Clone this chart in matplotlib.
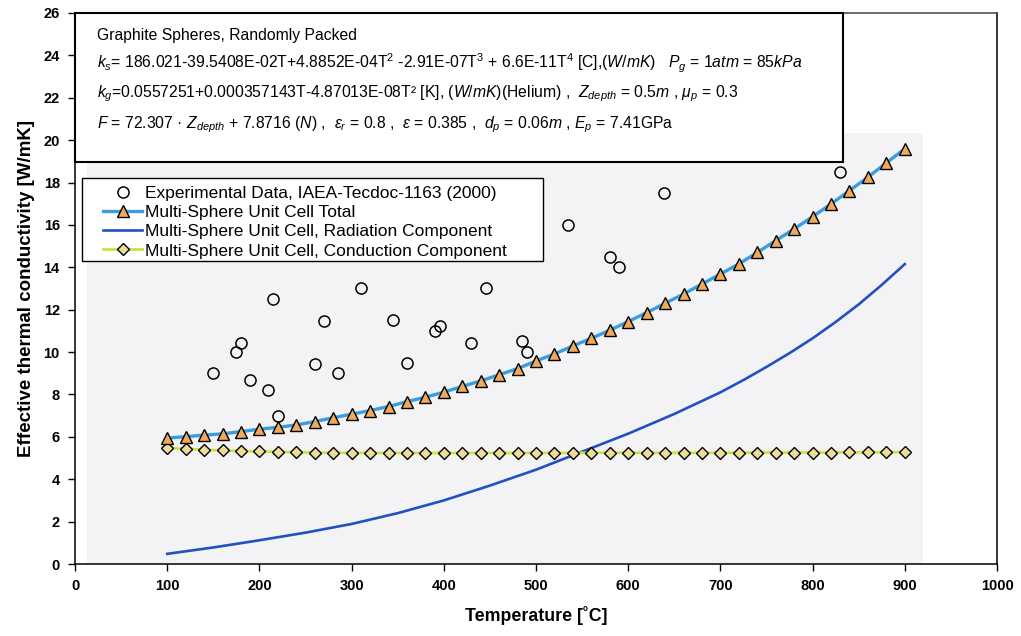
import matplotlib
matplotlib.use("Agg")
import matplotlib.pyplot as plt
from matplotlib.patches import Rectangle

plt.rcParams['font.family'] = ['Liberation Sans', 'DejaVu Sans']
plt.rcParams['mathtext.fontset'] = 'custom'
plt.rcParams['mathtext.rm'] = 'Liberation Sans'
plt.rcParams['mathtext.it'] = 'Liberation Sans:italic'
plt.rcParams['mathtext.bf'] = 'Liberation Sans:bold'

# Experimental data, IAEA-Tecdoc-1163 (2000)
exp_T = [150, 175, 180, 190, 209, 215, 220, 260, 270, 285, 310, 345, 360,
         390, 396, 430, 446, 485, 490, 535, 580, 590, 639, 830]
exp_k = [9.0, 10.0, 10.45, 8.7, 8.2, 12.5, 7.0, 9.45, 11.45, 9.0, 13.0, 11.5, 9.5,
         11.0, 11.25, 10.45, 13.0, 10.5, 10.0, 16.0, 14.5, 14.0, 17.5, 18.5]

# Multi-sphere unit cell model, 100..900 C in 20 C steps
model_T = list(range(100, 901, 20))
total_k = [5.94, 6.01, 6.08, 6.14, 6.25, 6.36, 6.45, 6.56, 6.72, 6.90,
           7.07, 7.24, 7.43, 7.66, 7.87, 8.11, 8.38, 8.64, 8.93, 9.22,
           9.58, 9.91, 10.29, 10.65, 11.03, 11.44, 11.86, 12.30, 12.74, 13.21,
           13.68, 14.16, 14.70, 15.26, 15.81, 16.39, 16.99, 17.62, 18.25, 18.93,
           19.59]
cond_k = [5.47, 5.43, 5.39, 5.36, 5.33, 5.31, 5.29, 5.27, 5.26, 5.25,
          5.24, 5.24, 5.24, 5.24, 5.24, 5.24, 5.24, 5.24, 5.24, 5.24,
          5.24, 5.24, 5.24, 5.25, 5.25, 5.25, 5.25, 5.25, 5.25, 5.25,
          5.25, 5.25, 5.26, 5.26, 5.26, 5.26, 5.26, 5.27, 5.27, 5.27,
          5.28]

# Radiation component (smooth curve)
rad_T = [100, 150, 200, 250, 300, 350, 400, 450, 500, 550, 600, 650, 700,
         725, 750, 775, 800, 825, 850, 875, 900]
rad_k = [0.48, 0.78, 1.12, 1.48, 1.89, 2.40, 3.00, 3.70, 4.45, 5.30, 6.15,
         7.08, 8.10, 8.68, 9.30, 9.95, 10.65, 11.42, 12.25, 13.17, 14.15]

x_ticks = list(range(0, 1001, 100))
y_ticks = list(range(0, 27, 2))

fig = plt.figure(figsize=(10.21, 6.36), dpi=100)
ax = fig.add_axes([0.0735, 0.1132, 0.903, 0.8664])

# faint grey tint of the plotting region
ax.add_patch(Rectangle((0.013, 0.0), 0.907, 0.782, transform=ax.transAxes,
                       facecolor='#f3f3f6', edgecolor='none', zorder=0))

ax.plot(rad_T, rad_k, color='#2350c0', lw=1.9, zorder=3,
        label='Multi-Sphere Unit Cell, Radiation Component')
ax.plot(model_T, cond_k, color='#c8e33c', lw=2.0, marker='D', ms=6.5,
        mfc='#eedd9a', mec='black', mew=1.0, zorder=4,
        label='Multi-Sphere Unit Cell, Conduction Component')
ax.plot(model_T, total_k, color='#3a9de0', lw=2.4, marker='^', ms=8.5,
        mfc='#f0a95c', mec='black', mew=1.0, zorder=5,
        label='Multi-Sphere Unit Cell Total')
ax.plot(exp_T, exp_k, ls='none', marker='o', ms=8, mfc='none', mec='black',
        mew=1.1, zorder=6, label='Experimental Data, IAEA-Tecdoc-1163 (2000)')

ax.set_xlim(0, 1000)
ax.set_ylim(0, 26)
ax.set_xticks(x_ticks)
ax.set_yticks(y_ticks)
ax.tick_params(direction='out', length=5, width=1.0, labelsize=10.5, pad=6)
for lab in ax.get_xticklabels() + ax.get_yticklabels():
    lab.set_fontweight('bold')
for s in ax.spines.values():
    s.set_linewidth(1.1)
ax.spines['top'].set_color('#444444')

ax.set_xlabel('Temperature [˚C]', fontsize=12.75, fontweight='bold', labelpad=9)
ax.set_ylabel('Effective thermal conductivity [W/mK]', fontsize=13.5,
              fontweight='bold', labelpad=6)

# parameter box
ax.add_patch(Rectangle((0.0, 0.7296), 0.833, 0.2704, transform=ax.transAxes,
                       facecolor='white', edgecolor='black', lw=1.5,
                       zorder=7, clip_on=False))
lines = [
    "Graphite Spheres, Randomly Packed",
    r"$k_s$= 186.021-39.5408E-02T+4.8852E-04T$^2$ -2.91E-07T$^3$ + 6.6E-11T$^4$ [C],$(W/mK)$   $P_g$ = 1$atm$ = 85$kPa$",
    r"$k_g$=0.0557251+0.000357143T-4.87013E-08T² [K], $(W/mK)$(Helium) ,  $Z_{depth}$ = 0.5$m$ , $\mu_p$ = 0.3",
    r"$F$ = 72.307 · $Z_{depth}$ + 7.8716 $(N)$ ,  $\varepsilon_r$ = 0.8 ,  $\varepsilon$ = 0.385 ,  $d_p$ = 0.06$m$ , $E_p$ = 7.41GPa",
]
ys = [0.960, 0.909, 0.853, 0.797]
for txt, yy in zip(lines, ys):
    ax.text(0.0239, yy, txt, transform=ax.transAxes, fontsize=11.3,
            va='center', ha='left', zorder=8)

# legend: frame drawn separately so the handle column can sit inset
ax.add_patch(Rectangle((0.0076, 0.5490), 0.5, 0.1515, transform=ax.transAxes,
                       facecolor='white', edgecolor='black', lw=1.0, zorder=9))
handles, labels = ax.get_legend_handles_labels()
order = [3, 2, 0, 1]
leg = ax.legend([handles[i] for i in order], [labels[i] for i in order],
                loc='upper left', bbox_to_anchor=(0.0304, 0.687),
                borderaxespad=0, fontsize=12.5, frameon=False, numpoints=1,
                handlelength=2.25, handletextpad=0.17, labelspacing=0.24,
                borderpad=0.0)
leg.set_zorder(10)

fig.savefig('out.png', dpi=100)
